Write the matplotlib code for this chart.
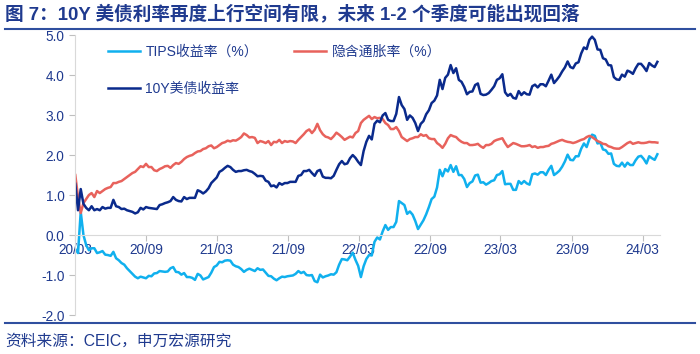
import pandas as pd
import matplotlib.pyplot as plt
import matplotlib.dates as mdates
from matplotlib.lines import Line2D

plt.rcParams['font.family'] = ['Liberation Sans', 'Noto Sans CJK SC', 'DejaVu Sans']

# weekly readings (Mondays), 2020-03-02 .. 2024-04-08
y10 = [
    1.28, 0.62, 1.15, 0.78, 0.68,
    0.62, 0.72, 0.62, 0.65,
    0.62, 0.70, 0.66, 0.68,
    0.68, 0.88, 0.72, 0.70, 0.65,
    0.66, 0.62, 0.60, 0.58,
    0.54, 0.57, 0.68, 0.64, 0.70,
    0.68, 0.67, 0.66, 0.65,
    0.75, 0.77, 0.80, 0.82,
    0.85, 0.95, 0.88, 0.85, 0.84,
    0.95, 0.90, 0.93, 0.93,
    0.93, 1.12, 1.09, 1.04,
    1.09, 1.17, 1.30, 1.37,
    1.44, 1.58, 1.62, 1.68, 1.73,
    1.70, 1.63, 1.58, 1.60,
    1.60, 1.62, 1.63, 1.60, 1.58,
    1.53, 1.47, 1.48, 1.47,
    1.36, 1.33, 1.22, 1.24,
    1.19, 1.30, 1.26, 1.30, 1.30,
    1.33, 1.33, 1.33, 1.48,
    1.50, 1.60, 1.60, 1.63,
    1.55, 1.48, 1.60, 1.63, 1.46,
    1.43, 1.43, 1.42, 1.48,
    1.63, 1.77, 1.85, 1.77, 1.79,
    1.92, 2.00, 1.93, 1.83,
    1.75, 2.10, 2.33, 2.48,
    2.39, 2.78, 2.86, 2.82,
    2.99, 3.05, 2.88, 2.85, 2.85,
    3.03, 3.45, 3.25, 3.15,
    2.88, 2.99, 2.93, 2.80,
    2.60, 2.78, 2.85, 3.02, 3.12,
    3.30, 3.36, 3.49, 3.88,
    3.65, 3.93, 4.01, 4.25, 4.05,
    4.17, 3.88, 3.83, 3.70,
    3.52, 3.58, 3.59, 3.75,
    3.79, 3.53, 3.50, 3.51, 3.55,
    3.63, 3.72, 3.88, 3.92,
    4.02, 3.57, 3.48, 3.53,
    3.43, 3.41, 3.60, 3.50,
    3.57, 3.52, 3.51, 3.72, 3.76,
    3.69, 3.77, 3.77, 3.72,
    3.86, 4.01, 3.80, 3.88, 3.97,
    4.09, 4.19, 4.34, 4.20,
    4.17, 4.29, 4.32, 4.54,
    4.69, 4.65, 4.88, 4.96, 4.88,
    4.64, 4.63, 4.42, 4.39,
    4.25, 4.24, 3.95, 3.89,
    3.88, 4.01, 3.96, 4.11, 4.08,
    4.03, 4.17, 4.28, 4.28,
    4.20, 4.10, 4.30, 4.24,
    4.20, 4.33,
]

bei = [
    1.50, 0.95, 0.55, 0.80, 0.90,
    1.00, 1.05, 0.95, 1.10,
    1.05, 1.10, 1.15, 1.18,
    1.20, 1.30, 1.30, 1.33, 1.35,
    1.40, 1.45, 1.50, 1.55,
    1.58, 1.65, 1.72, 1.70, 1.78,
    1.70, 1.70, 1.62, 1.60,
    1.65, 1.68, 1.72, 1.73,
    1.68, 1.75, 1.80, 1.78, 1.83,
    1.90, 1.95, 1.98, 2.00,
    2.05, 2.09, 2.10, 2.15,
    2.17, 2.22, 2.24, 2.17,
    2.20, 2.25, 2.30, 2.32, 2.36,
    2.34, 2.37, 2.36, 2.40,
    2.45, 2.54, 2.50, 2.44, 2.45,
    2.43, 2.30, 2.35, 2.33,
    2.30, 2.35, 2.25, 2.33,
    2.32, 2.38, 2.30, 2.35, 2.33,
    2.35, 2.34, 2.30, 2.38,
    2.45, 2.52, 2.60, 2.64,
    2.55, 2.63, 2.78, 2.62, 2.52,
    2.46, 2.44, 2.40, 2.47,
    2.56, 2.51, 2.45, 2.38, 2.42,
    2.46, 2.44, 2.55, 2.60,
    2.80, 2.88, 2.93, 2.98,
    2.90, 2.95, 2.92, 2.93,
    2.90, 2.80, 2.75, 2.65, 2.65,
    2.70, 2.60, 2.45, 2.40,
    2.35, 2.40, 2.42, 2.45,
    2.45, 2.52, 2.48, 2.50, 2.42,
    2.40, 2.40, 2.30, 2.25,
    2.18, 2.28, 2.42, 2.50, 2.47,
    2.45, 2.38, 2.33, 2.30,
    2.30, 2.25, 2.25, 2.26,
    2.28, 2.22, 2.18, 2.25, 2.25,
    2.28, 2.35, 2.38, 2.40,
    2.42, 2.30, 2.20, 2.25,
    2.30, 2.28, 2.25, 2.22,
    2.22, 2.23, 2.25, 2.20, 2.22,
    2.18, 2.20, 2.20, 2.22,
    2.23, 2.28, 2.30, 2.33, 2.36,
    2.38, 2.35, 2.33, 2.32,
    2.30, 2.32, 2.35, 2.38,
    2.40, 2.45, 2.48, 2.45, 2.40,
    2.35, 2.32, 2.28, 2.27,
    2.22, 2.20, 2.17, 2.16,
    2.16, 2.20, 2.25, 2.30, 2.33,
    2.28, 2.30, 2.32, 2.30,
    2.30, 2.31, 2.33, 2.32,
    2.32, 2.31,
]

tips = [
    -0.35, -0.45, 0.58, 0.00, -0.25,
    -0.38, -0.33, -0.33, -0.45,
    -0.43, -0.40, -0.49, -0.50,
    -0.52, -0.42, -0.58, -0.63, -0.70,
    -0.74, -0.83, -0.90, -0.97,
    -1.04, -1.08, -1.04, -1.06, -1.08,
    -1.02, -1.03, -0.96, -0.95,
    -0.90, -0.91, -0.92, -0.91,
    -0.83, -0.80, -0.92, -0.93, -0.99,
    -0.95, -1.05, -1.05, -1.07,
    -1.12, -0.97, -1.01, -1.11,
    -1.08, -1.05, -0.94, -0.80,
    -0.76, -0.67, -0.68, -0.64, -0.63,
    -0.64, -0.74, -0.78, -0.80,
    -0.85, -0.92, -0.87, -0.84, -0.87,
    -0.90, -0.83, -0.87, -0.86,
    -0.94, -1.02, -1.03, -1.09,
    -1.13, -1.08, -1.04, -1.05, -1.03,
    -1.02, -1.01, -0.97, -0.90,
    -0.95, -0.92, -1.00, -1.01,
    -1.00, -1.15, -1.18, -0.99, -1.06,
    -1.03, -1.01, -0.98, -0.99,
    -0.93, -0.74, -0.60, -0.61, -0.63,
    -0.54, -0.44, -0.62, -0.77,
    -1.05, -0.78, -0.60, -0.50,
    -0.51, -0.17, -0.06, -0.11,
    0.09, 0.25, 0.13, 0.20, 0.20,
    0.33, 0.85, 0.80, 0.75,
    0.53, 0.59, 0.51, 0.35,
    0.15, 0.26, 0.37, 0.52, 0.70,
    0.90, 0.96, 1.19, 1.63,
    1.47, 1.65, 1.59, 1.75, 1.58,
    1.72, 1.50, 1.50, 1.40,
    1.20, 1.30, 1.34, 1.49,
    1.51, 1.31, 1.32, 1.26, 1.30,
    1.35, 1.37, 1.50, 1.52,
    1.60, 1.27, 1.28, 1.28,
    1.13, 1.13, 1.35, 1.28,
    1.35, 1.29, 1.26, 1.52, 1.54,
    1.51, 1.57, 1.57, 1.50,
    1.63, 1.73, 1.50, 1.55, 1.61,
    1.71, 1.84, 2.01, 1.88,
    1.87, 1.97, 1.97, 2.16,
    2.29, 2.20, 2.40, 2.51, 2.48,
    2.29, 2.31, 2.14, 2.12,
    2.03, 2.04, 1.78, 1.73,
    1.72, 1.81, 1.71, 1.81, 1.75,
    1.75, 1.87, 1.96, 1.98,
    1.90, 1.79, 1.97, 1.92,
    1.88, 2.02,
]

dates = pd.date_range('2020-03-02', periods=len(y10), freq='W-MON')

navy = '#1F3A8F'
c_tips = '#10B0EE'
c_bei = '#E8625C'
c_y10 = '#0A2A8C'

fig = plt.figure(figsize=(7, 3.54), dpi=100)
ax = fig.add_axes([0.107, 0.110, 0.836, 0.791])

l1, = ax.plot(dates, tips, color=c_tips, lw=1.8, label='TIPS收益率（%）')
l2, = ax.plot(dates, bei, color=c_bei, lw=1.8, label='隐含通胀率（%）')
l3, = ax.plot(dates, y10, color=c_y10, lw=1.8, label='10Y美债收益率')

ax.set_ylim(-2, 5)
ax.set_yticks([-2, -1, 0, 1, 2, 3, 4, 5])
ax.yaxis.set_major_formatter(plt.FormatStrFormatter('%.1f'))
ax.set_xlim(pd.Timestamp('2020-03-01'), pd.Timestamp('2024-04-15'))
ax.set_xticks(pd.date_range('2020-03-01', '2024-03-01', freq='6MS'))
ax.xaxis.set_major_formatter(mdates.DateFormatter('%y/%m'))

for s in ['top', 'right']:
    ax.spines[s].set_visible(False)
ax.spines['bottom'].set_position(('data', 0))
ax.spines['bottom'].set_color('#D9D9D9')
ax.spines['left'].set_color('#D9D9D9')
ax.tick_params(axis='both', colors='#BFBFBF', labelcolor=navy, labelsize=9.8, length=4)
ax.tick_params(axis='x', pad=2)

ax.legend([l1, l3, l2], [l1.get_label(), l3.get_label(), l2.get_label()],
          loc='upper left', bbox_to_anchor=(0.035, 1.01), ncol=2, frameon=False,
          fontsize=10, labelcolor=navy, handlelength=2.3, handletextpad=0.4,
          labelspacing=1.7, columnspacing=2.6)

fig.text(0.007, 0.962, '图 7：10Y 美债利率再度上行空间有限，未来 1-2 个季度可能出现回落',
         fontsize=13.4, fontweight='bold', color=navy, va='center')
fig.add_artist(Line2D([0.007, 0.993], [0.918, 0.918], color='#2F4F9F', lw=1.5))
fig.add_artist(Line2D([0.007, 0.993], [0.088, 0.088], color='#2F4F9F', lw=1.5))
fig.text(0.007, 0.035, '资料来源：CEIC，申万宏源研究', fontsize=11.3, color=navy, va='center')

fig.savefig('out.png', dpi=100)
